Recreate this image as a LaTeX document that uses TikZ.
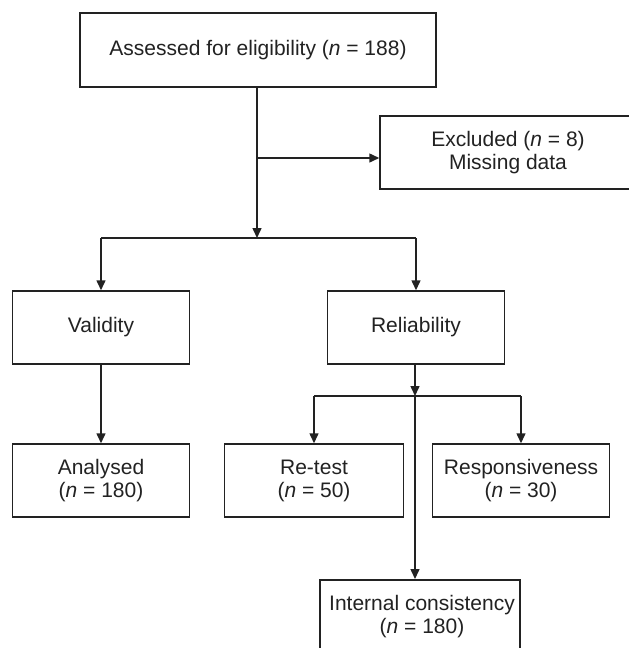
\documentclass[tikz,border=0pt]{standalone}
\usepackage{fontspec}
\setmainfont{Liberation Sans}
\usetikzlibrary{arrows.meta}
\definecolor{ink}{HTML}{222222}
\tikzset{
  box/.style={draw=ink, line width=1.5pt, rectangle, inner sep=0pt, align=center,
    font=\fontsize{21}{23}\selectfont, text=ink},
  link/.style={draw=ink, line width=1.5pt},
  arr/.style={link, -{Triangle[length=10pt,width=9pt]}}
}
\begin{document}
\begin{tikzpicture}[x=1pt,y=-1pt]
\clip (0,0) rectangle (629,648);
\fill[white] (0,0) rectangle (629,648);
% boxes (centre, size)
\node[box, minimum width=356pt, minimum height=74pt] (top) at (258,50) {Assessed for eligibility (\textit{n} = 188)};
\node[box, minimum width=256pt, minimum height=73pt] (excl) at (508,152.5) {Excluded (\textit{n} = 8)\\Missing data};
\node[box, minimum width=177pt, minimum height=73pt] (val) at (101,327.5) {Validity};
\node[box, minimum width=177pt, minimum height=73pt] (rel) at (416,327.5) {Reliability};
\node[box, minimum width=177pt, minimum height=73pt] (ana) at (101,480.5) {Analysed\\(\textit{n} = 180)};
\node[box, minimum width=179pt, minimum height=73pt] (ret) at (314,480.5) {Re-test\\(\textit{n} = 50)};
\node[box, minimum width=177pt, minimum height=73pt] (resp) at (521,480.5) {Responsiveness\\(\textit{n} = 30)};
\node[box, minimum width=200pt, minimum height=80pt, anchor=north] (int) at (420,579) {};
\node[font=\fontsize{21}{23}\selectfont, text=ink, align=center, inner sep=0pt] (intt) at (422,617) {Internal consistency\\(\textit{n} = 180)};
% junctions
\coordinate (j1) at (257,238);
\coordinate (b1) at (257,158);
\coordinate (j2) at (415,396);
% connectors
\draw[arr] (top.south -| j1) -- (j1);
\draw[arr] (b1) -- (b1 -| excl.west);
\draw[link] (val.north |- j1) -- (rel.north |- j1);
\draw[arr] (val.north |- j1) -- (val.north);
\draw[arr] (rel.north |- j1) -- (rel.north);
\draw[arr] (val.south) -- (ana.north);
\draw[arr] (rel.south -| j2) -- (j2);
\draw[link] (ret.north |- j2) -- (resp.north |- j2);
\draw[arr] (ret.north |- j2) -- (ret.north);
\draw[arr] (resp.north |- j2) -- (resp.north);
\draw[arr] (j2) -- (j2 |- int.north);
\end{tikzpicture}
\end{document}
